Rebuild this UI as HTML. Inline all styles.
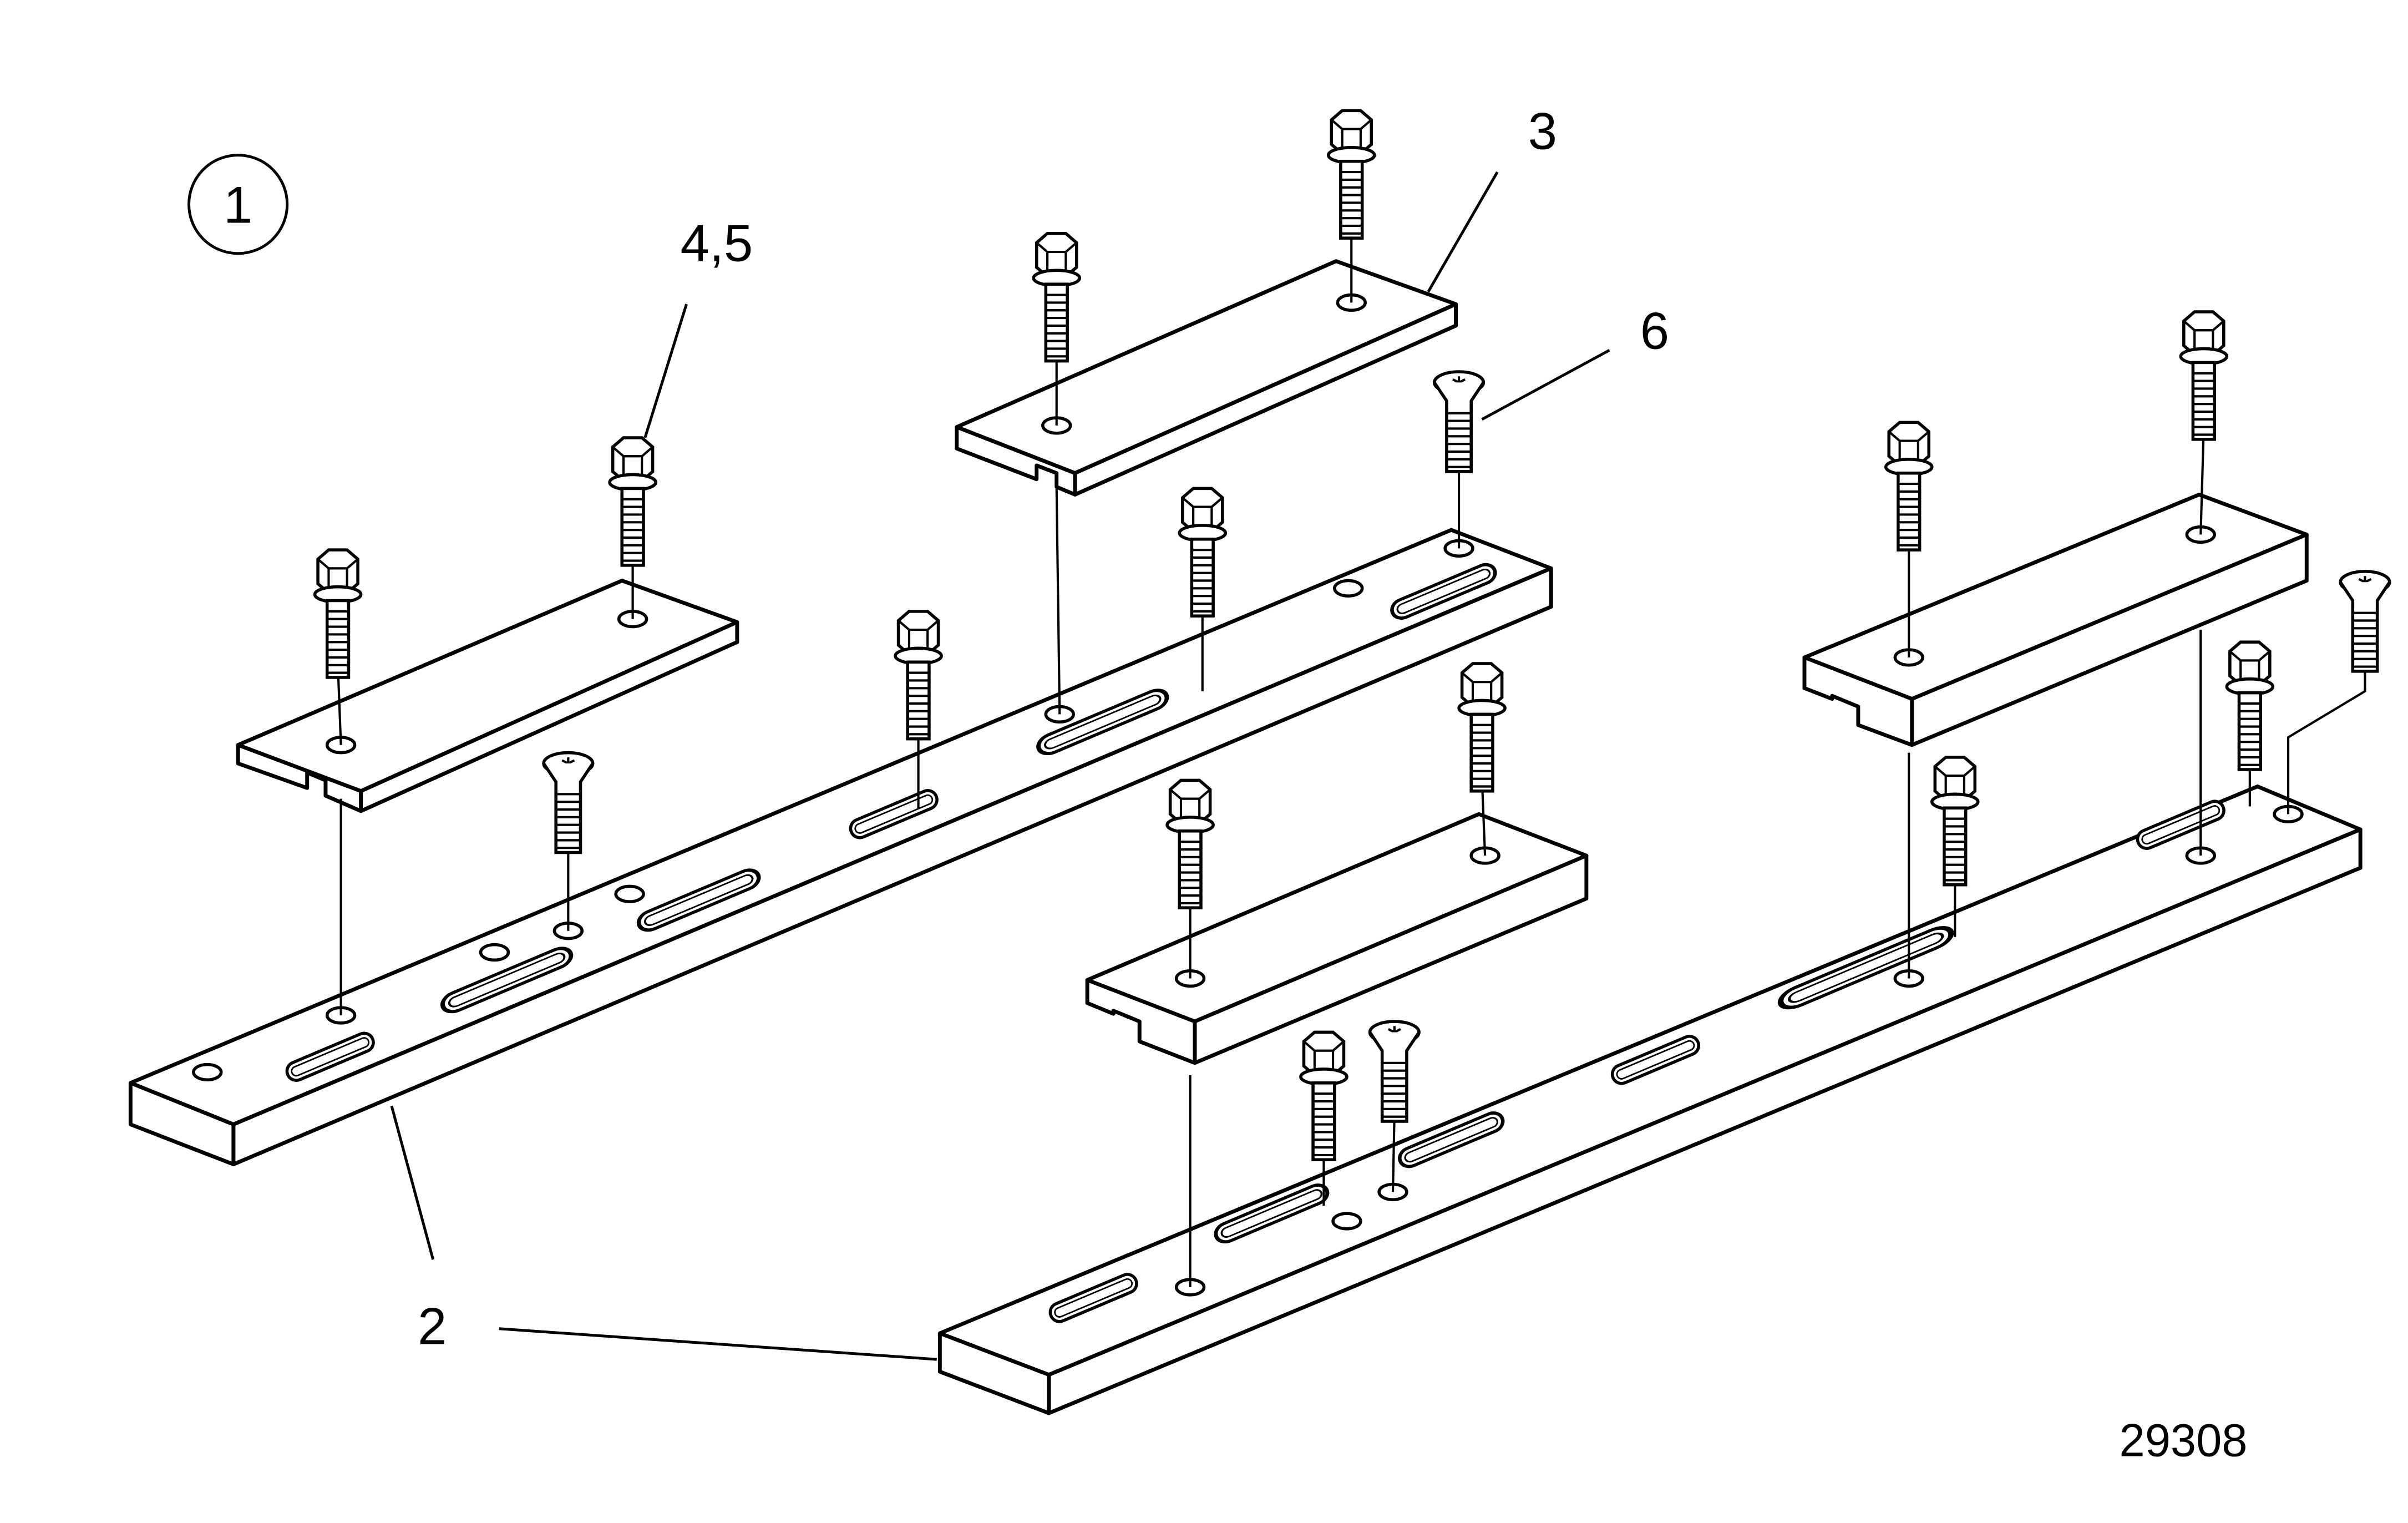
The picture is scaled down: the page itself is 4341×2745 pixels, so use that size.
<!DOCTYPE html>
<html><head><meta charset="utf-8"><style>html,body{margin:0;padding:0;background:#fff}svg{display:block}</style></head>
<body>
<svg xmlns="http://www.w3.org/2000/svg" width="4341" height="2745" viewBox="0 0 1568 991.5">
<defs>
<g id="bolt">
<path d="M-13,-2 L-13,14 L-6,20 L6,20 L13,14 L13,-2 L6,-8 L-6,-8 Z" fill="#fff" stroke="#000" stroke-width="2"/>
<path d="M-13,-2 L-6,4 L6,4 L13,-2 M-6,4 L-6,20 M6,4 L6,20" fill="none" stroke="#000" stroke-width="1.5"/>
<ellipse cx="0" cy="21" rx="15" ry="5" fill="#fff" stroke="#000" stroke-width="2"/>
<rect x="-7" y="25" width="14" height="50" fill="#fff" stroke="#000" stroke-width="2"/>
<path d="M-7,32 h14 M-7,37 h14 M-7,42 h14 M-7,47 h14 M-7,52 h14 M-7,57 h14 M-7,62 h14 M-7,67 h14 M-7,72 h14" stroke="#000" stroke-width="1.5"/>
</g>
<g id="screw">
<ellipse cx="0" cy="0" rx="16" ry="7" fill="#fff" stroke="#000" stroke-width="2"/>
<path d="M-4,-2 L4,2 M4,-2 L-4,2 M0,-4 L0,4" stroke="#000" stroke-width="1.5"/>
<path d="M-16,0 L-8,12 L-8,58 L8,58 L8,12 L16,0" fill="#fff" stroke="#000" stroke-width="2"/>
<path d="M-8,20 h16 M-8,25 h16 M-8,30 h16 M-8,35 h16 M-8,40 h16 M-8,45 h16 M-8,50 h16 M-8,55 h16" stroke="#000" stroke-width="1.5"/>
</g>
<g id="slot"><rect x="-30" y="-6" width="60" height="12" rx="6" fill="#fff" stroke="#000" stroke-width="2"/><rect x="-27" y="-3" width="54" height="6" rx="3" fill="none" stroke="#000" stroke-width="1"/></g>
<g id="hole"><ellipse rx="9" ry="5" fill="#fff" stroke="#000" stroke-width="2"/></g>
</defs>
<g fill="#fff" stroke="#000" stroke-width="2.5" stroke-linejoin="round">
<!-- left long rail -->
<polygon points="85,705 152,732 1010,370 945,345"/>
<polygon points="152,732 1010,370 1010,395 152,758"/>
<polygon points="85,705 152,732 152,758 85,732"/>
<!-- bottom right rail -->
<polygon points="612,868 683,895 1537,540 1470,512"/>
<polygon points="683,895 1537,540 1537,565 683,920"/>
<polygon points="612,868 683,895 683,920 612,893"/>
</g>
<g>
<use href="#slot" transform="translate(215,688) rotate(-22.9)"/>
<use href="#slot" transform="translate(330,638) rotate(-22.9) scale(1.5,1)"/>
<use href="#slot" transform="translate(455,586) rotate(-22.9) scale(1.4,1)"/>
<use href="#slot" transform="translate(582,530) rotate(-22.9)"/>
<use href="#slot" transform="translate(718,470) rotate(-22.9) scale(1.5,1)"/>
<use href="#slot" transform="translate(940,385) rotate(-22.9) scale(1.2,1)"/>
<use href="#hole" transform="translate(135,698)"/><use href="#hole" transform="translate(222,661)"/>
<use href="#hole" transform="translate(322,620)"/><use href="#hole" transform="translate(410,582)"/>
<use href="#hole" transform="translate(370,606)"/><use href="#hole" transform="translate(690,465)"/>
<use href="#hole" transform="translate(878,383)"/><use href="#hole" transform="translate(950,357)"/>
<use href="#slot" transform="translate(712,845) rotate(-22.9)"/>
<use href="#slot" transform="translate(828,790) rotate(-22.9) scale(1.3,1)"/>
<use href="#slot" transform="translate(945,742) rotate(-22.9) scale(1.2,1)"/>
<use href="#slot" transform="translate(1078,690) rotate(-22.9)"/>
<use href="#slot" transform="translate(1215,630) rotate(-22.9) scale(2,1)"/>
<use href="#slot" transform="translate(1420,537) rotate(-22.9)"/>
<use href="#hole" transform="translate(775,838)"/><use href="#hole" transform="translate(877,795)"/>
<use href="#hole" transform="translate(907,776)"/><use href="#hole" transform="translate(1243,637)"/>
<use href="#hole" transform="translate(1433,557)"/><use href="#hole" transform="translate(1490,530)"/>
</g>
<g fill="#fff" stroke="#000" stroke-width="2.5" stroke-linejoin="round">
<!-- plate left -->
<polygon points="155,485 235,515 480,405 405,378"/>
<polygon points="235,515 480,405 480,418 235,528"/>
<polygon points="155,485 235,515 235,528 212,518 212,508 200,503 200,513 155,497"/>
<!-- plate top -->
<polygon points="623,278 700,308 948,198 870,170"/>
<polygon points="700,308 948,198 948,212 700,322"/>
<polygon points="623,278 700,308 700,322 688,317 688,308 675,303 675,312 623,292"/>
<!-- plate mid -->
<polygon points="708,638 778,665 1033,557 963,530"/>
<polygon points="778,665 1033,557 1033,585 778,692"/>
<polygon points="708,638 778,665 778,692 742,678 742,665 725,658 725,660 708,653"/>
<!-- plate right -->
<polygon points="1175,428 1245,455 1502,348 1432,322"/>
<polygon points="1245,455 1502,348 1502,378 1245,485"/>
<polygon points="1175,428 1245,455 1245,485 1210,472 1210,460 1193,453 1193,455 1175,448"/>
</g>
<g>
<use href="#hole" transform="translate(222,485)"/><use href="#hole" transform="translate(412,403)"/>
<use href="#hole" transform="translate(688,277)"/><use href="#hole" transform="translate(880,197)"/>
<use href="#hole" transform="translate(775,637)"/><use href="#hole" transform="translate(967,557)"/>
<use href="#hole" transform="translate(1243,428)"/><use href="#hole" transform="translate(1433,348)"/>
</g>
<g stroke="#000" stroke-width="1.5">
<line x1="412" y1="360" x2="412" y2="403"/><line x1="220" y1="433" x2="222" y2="485"/>
<line x1="222" y1="520" x2="222" y2="661"/><line x1="598" y1="473" x2="598" y2="526"/>
<line x1="783" y1="393" x2="783" y2="450"/><line x1="688" y1="227" x2="688" y2="277"/>
<line x1="688" y1="318" x2="690" y2="465"/><line x1="880" y1="147" x2="880" y2="197"/>
<line x1="965" y1="507" x2="967" y2="557"/><line x1="775" y1="583" x2="775" y2="637"/>
<line x1="775" y1="700" x2="775" y2="838"/><line x1="1243" y1="350" x2="1243" y2="428"/>
<line x1="1435" y1="278" x2="1433" y2="348"/><line x1="1243" y1="490" x2="1243" y2="637"/>
<line x1="1273" y1="568" x2="1273" y2="610"/><line x1="1433" y1="410" x2="1433" y2="557"/>
<line x1="1465" y1="493" x2="1465" y2="525"/><line x1="862" y1="747" x2="862" y2="785"/>
<line x1="370" y1="551" x2="370" y2="606"/><line x1="950" y1="303" x2="950" y2="357"/>
<line x1="908" y1="726" x2="907" y2="776"/>
<polyline points="1540,433 1540,450 1490,480 1490,530" fill="none"/>
</g>
<use href="#bolt" transform="translate(412,293)"/><use href="#bolt" transform="translate(220,366)"/>
<use href="#bolt" transform="translate(598,406)"/><use href="#bolt" transform="translate(783,326)"/>
<use href="#bolt" transform="translate(688,160)"/><use href="#bolt" transform="translate(880,80)"/>
<use href="#bolt" transform="translate(965,440)"/><use href="#bolt" transform="translate(775,516)"/>
<use href="#bolt" transform="translate(1243,283)"/><use href="#bolt" transform="translate(1435,211)"/>
<use href="#bolt" transform="translate(1273,501)"/><use href="#bolt" transform="translate(1465,426)"/>
<use href="#bolt" transform="translate(862,680)"/>
<use href="#screw" transform="translate(370,497)"/><use href="#screw" transform="translate(950,249)"/>
<use href="#screw" transform="translate(908,672)"/><use href="#screw" transform="translate(1540,379)"/>
<g stroke="#000" stroke-width="1.8" fill="none">
<circle cx="155" cy="133" r="32"/>
<line x1="447" y1="198" x2="420" y2="285"/><line x1="975" y1="112" x2="930" y2="190"/>
<line x1="1048" y1="228" x2="965" y2="273"/><line x1="282" y1="820" x2="255" y2="720"/>
<line x1="325" y1="865" x2="610" y2="885"/>
</g>
<g font-family="Liberation Sans, sans-serif" font-size="34" fill="#000">
<text x="155" y="145" text-anchor="middle">1</text>
<text x="443" y="170">4,5</text>
<text x="995" y="97">3</text>
<text x="1068" y="227">6</text>
<text x="272" y="875">2</text>
<text x="1380" y="948" font-size="30">29308</text>
</g>
</svg>
</body></html>
